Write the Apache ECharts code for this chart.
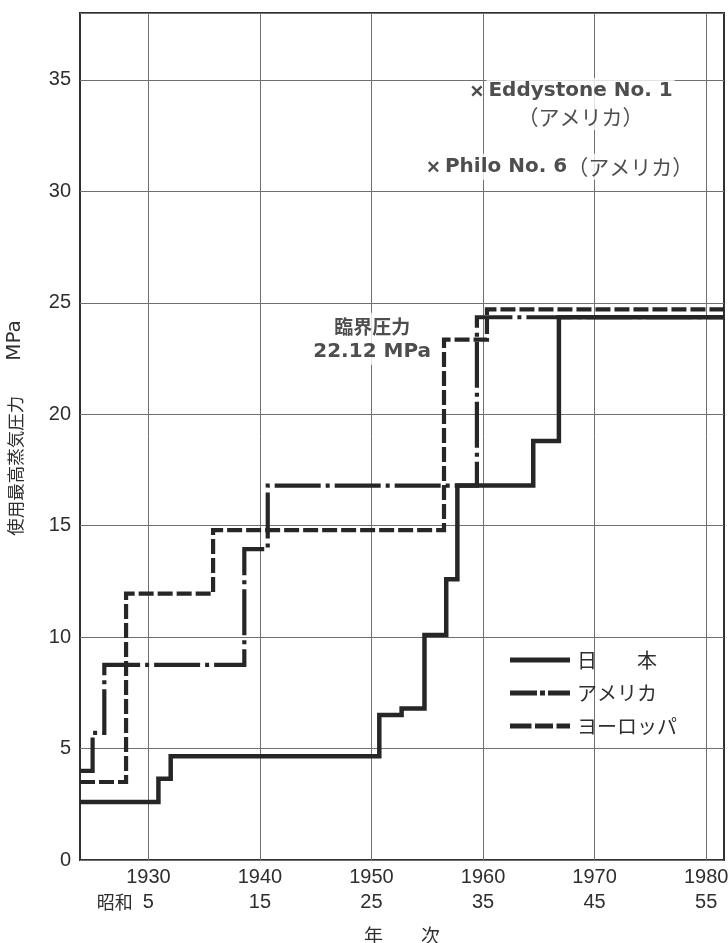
<!DOCTYPE html>
<html><head><meta charset="utf-8">
<script src="https://cdn.jsdelivr.net/npm/echarts@6/dist/echarts.min.js"></script>
<style>html,body{margin:0;padding:0;background:#fff}#c{width:728px;height:943px}</style>
</head><body><div id="c"></div>
<script>
// ---- data ----
const japanYears  = [1923.87, 1930.9, 1932.0, 1950.7, 1952.7, 1954.75, 1956.7, 1957.7, 1964.5, 1966.8, 1981.6];
const japanMPa    = [2.6, 3.65, 4.65, 6.5, 6.8, 10.1, 12.6, 16.8, 18.8, 24.35, 24.35];
const usaYears    = [1923.87, 1925.0, 1926.05, 1938.6, 1940.7, 1959.45, 1981.6];
const usaMPa      = [4.0, 5.7, 8.75, 13.95, 16.8, 24.35, 24.35];
const europeYears = [1923.87, 1928.0, 1935.8, 1956.5, 1960.35, 1981.6];
const europeMPa   = [3.5, 11.95, 14.8, 23.35, 24.7, 24.7];
const seriesNames = ['日　　本', 'アメリカ', 'ヨーロッパ'];
const xTickYears  = [1930, 1940, 1950, 1960, 1970, 1980];
const showaLabels = ['5', '15', '25', '35', '45', '55'];
const yTickValues = [0, 5, 10, 15, 20, 25, 30, 35];
const recordNames   = ['Eddystone No. 1', 'Philo No. 6'];
const recordCountry = ['（アメリカ）', '（アメリカ）'];
const recordYears   = [1959.45, 1955.55];
const recordMPa     = [34.5, 31.1];
const critText = ['臨界圧力', '22.12 MPa'];
const critPos  = [1950.06, 23.38];

const LATIN = "'Liberation Sans', 'Noto Sans CJK JP', sans-serif";
const CJK = "'Noto Sans CJK JP', 'Liberation Sans', sans-serif";
const BOLD = "'DejaVu Sans', 'Noto Sans CJK JP', sans-serif";
const INK = '#262626';
const TXT = '#2e2e2e';
const GRID = '#707070';

// legend sample glyphs (solid / dash-dot / dashed), 60 x 5 units
const legendIcons = [
  'path://M0,0H60V5H0Z',
  'path://M0,0H27V5H0Z M30,0H35V5H30Z M38,0H60V5H38Z',
  'path://M0,0H21.5V5H0Z M25,0H43V5H25Z M46.5,0H60V5H46.5Z'
];

const pairs = (xs, ys) => xs.map((x, i) => [x, ys[i]]);

const chart = echarts.init(document.getElementById('c'), null, {renderer: 'canvas'});
chart.setOption({
  animation: false,
  backgroundColor: '#fff',
  textStyle: {fontFamily: LATIN, color: TXT},
  grid: {left: 80, right: 4, top: 13, bottom: 83, show: true, borderColor: '#303030', borderWidth: 2,
         backgroundColor: 'transparent', outerBoundsMode: 'none', containLabel: false},
  legend: {
    orient: 'vertical', left: 510, top: 650, padding: 0,
    itemWidth: 60, itemHeight: 20, itemGap: 13,
    selectedMode: false,
    itemStyle: {color: INK, borderWidth: 0},
    textStyle: {fontFamily: CJK, fontSize: 20, color: TXT, padding: [0, 0, 0, 2]},
    data: seriesNames.map((n, i) => ({name: n, icon: legendIcons[i]}))
  },
  xAxis: {
    type: 'value', min: 1923.87, max: 1981.6,
    axisLine: {show: false}, axisTick: {show: false, customValues: xTickYears},
    splitLine: {show: false},
    name: '年　　次', nameLocation: 'middle', nameGap: 66,
    nameTextStyle: {fontFamily: CJK, fontSize: 19, color: TXT},
    axisLabel: {
      customValues: xTickYears, margin: 5, fontSize: 20, lineHeight: 25, color: TXT,
      formatter: (v) => {
        const i = xTickYears.indexOf(Math.round(v));
        if (i < 0) return '';
        const sub = i === 0 ? '{p|昭和}' + showaLabels[i] + '{q| }' : showaLabels[i];
        return String(Math.round(v)) + '\n' + sub;
      },
      rich: {
        p: {fontFamily: CJK, fontSize: 18, width: 46, align: 'left', lineHeight: 25, color: TXT},
        q: {fontSize: 18, width: 46, lineHeight: 25}
      }
    }
  },
  yAxis: {
    type: 'value', min: 0, max: 38, interval: 5,
    axisLine: {show: false}, axisTick: {show: false},
    splitLine: {show: true, lineStyle: {color: GRID, width: 1}},
    axisLabel: {
      margin: 9, fontSize: 20, color: TXT,
      formatter: (v) => yTickValues.indexOf(v) >= 0 ? String(v) : ''
    },
    name: '使用最高蒸気圧力　　{m|MPa}', nameLocation: 'middle', nameRotate: 90, nameGap: 55,
    nameTextStyle: {fontFamily: CJK, fontSize: 17.5, color: TXT, padding: [0, 0, 0, 17],
      rich: {m: {fontFamily: "'DejaVu Sans', sans-serif", fontSize: 20, color: TXT}}}
  },
  series: [
    {
      name: seriesNames[0], type: 'line', step: 'end', symbol: 'none', z: 4,
      data: pairs(japanYears, japanMPa),
      lineStyle: {color: INK, width: 4.5, type: 'solid', cap: 'butt', join: 'miter'},
      itemStyle: {color: INK},
      emphasis: {disabled: true},
      markLine: {
        silent: true, z: 1, symbol: ['none', 'none'], animation: false,
        label: {show: false},
        lineStyle: {color: GRID, width: 1, type: 'solid'},
        emphasis: {disabled: true},
        data: xTickYears.map(v => ({xAxis: v}))
      }
    },
    {
      name: seriesNames[1], type: 'line', step: 'end', symbol: 'none', z: 3,
      data: pairs(usaYears, usaMPa),
      lineStyle: {color: INK, width: 4.2, type: [46, 5, 4, 5], cap: 'butt', join: 'miter'},
      itemStyle: {color: INK},
      emphasis: {disabled: true}
    },
    {
      name: seriesNames[2], type: 'line', step: 'end', symbol: 'none', z: 3,
      data: pairs(europeYears, europeMPa),
      lineStyle: {color: INK, width: 4.2, type: [15, 4], cap: 'butt', join: 'miter'},
      itemStyle: {color: INK},
      emphasis: {disabled: true}
    },
    {
      name: 'records', type: 'scatter', z: 6,
      symbol: 'path://M1.5,0L5,3.5L8.5,0L10,1.5L6.5,5L10,8.5L8.5,10L5,6.5L1.5,10L0,8.5L3.5,5L0,1.5Z',
      symbolSize: 11, itemStyle: {color: '#222'},
      emphasis: {disabled: true},
      data: recordYears.map((y, i) => ({
        value: [y, recordMPa[i]],
        label: {
          formatter: () => i === 0
            ? '{nm|' + recordNames[i] + '}\n{ct|' + recordCountry[i] + '}'
            : '{nm|' + recordNames[i] + '}{ct2|' + recordCountry[i] + '}'
        }
      })),
      label: {
        show: true, position: [15, -7.5], backgroundColor: '#fff', padding: [0, 2],
        rich: {
          nm: {fontFamily: BOLD, fontWeight: 'bold', fontSize: 20, lineHeight: 26, color: '#222'},
          ct: {fontFamily: CJK, fontSize: 21, lineHeight: 26, align: 'center', color: '#222'},
          ct2: {fontFamily: CJK, fontSize: 21, lineHeight: 26, color: '#222'}
        }
      }
    },
    {
      name: 'critical', type: 'scatter', z: 6, symbol: 'circle', symbolSize: 1,
      itemStyle: {color: 'rgba(0,0,0,0)'},
      emphasis: {disabled: true},
      data: [{value: critPos}],
      label: {
        show: true, position: 'inside', backgroundColor: '#fff', padding: [1, 3],
        formatter: () => '{a|' + critText[0] + '}\n{b|' + critText[1] + '}',
        rich: {
          a: {fontFamily: CJK, fontWeight: 'bold', fontSize: 19, lineHeight: 25, align: 'center', color: '#222'},
          b: {fontFamily: BOLD, fontWeight: 'bold', fontSize: 20, lineHeight: 25, align: 'center', color: '#222'}
        }
      }
    }
  ]
});
</script>
</body></html>
